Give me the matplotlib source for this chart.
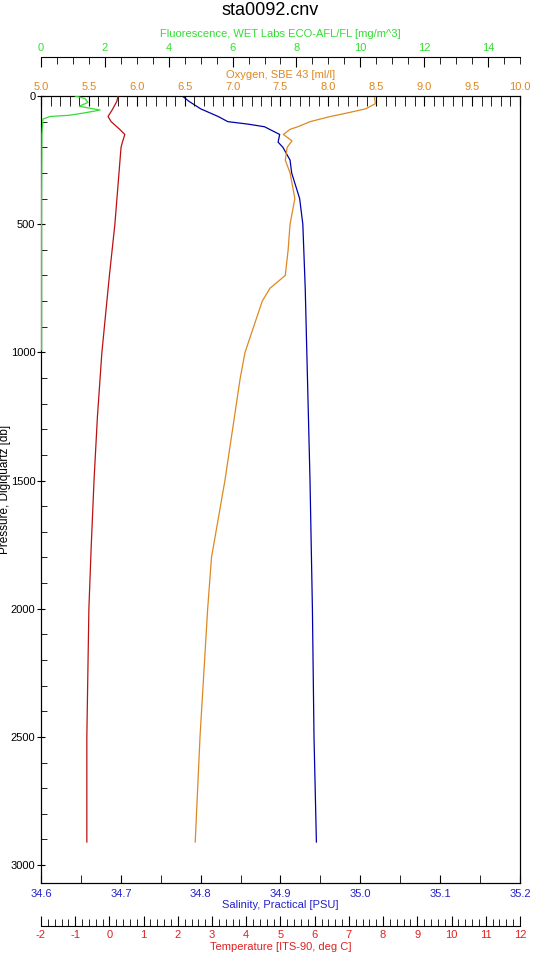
import numpy as np
import matplotlib.pyplot as plt
from matplotlib.ticker import MultipleLocator

plt.rcParams['font.family'] = ['Liberation Sans', 'DejaVu Sans']
plt.rcParams['axes.unicode_minus'] = False

# Profiles (pressure in db)
temp_p = [0, 20, 50, 80, 100, 130, 150, 180, 200, 300, 500, 700, 1000, 1250, 1500, 1750, 2000, 2250, 2500, 2750, 2910]
temp_v = [0.25, 0.22, 0.10, -0.04, 0.05, 0.30, 0.45, 0.38, 0.34, 0.28, 0.16, 0.0, -0.22, -0.35, -0.45, -0.53, -0.60, -0.63, -0.66, -0.66, -0.66]

sal_p = [0, 20, 50, 80, 100, 110, 120, 150, 180, 200, 250, 300, 400, 500, 750, 1000, 1500, 2000, 2500, 2910]
sal_v = [34.777, 34.785, 34.80, 34.822, 34.834, 34.86, 34.88, 34.899, 34.897, 34.903, 34.912, 34.914, 34.924, 34.928, 34.931, 34.933, 34.937, 34.940, 34.942, 34.945]

oxy_p = [0, 30, 50, 70, 80, 100, 120, 130, 150, 175, 200, 250, 300, 400, 500, 600, 700, 750, 800, 900, 1000, 1100, 1300, 1500, 1800, 2000, 2250, 2500, 2910]
oxy_v = [8.48, 8.49, 8.39, 8.15, 8.02, 7.81, 7.68, 7.60, 7.53, 7.62, 7.57, 7.55, 7.60, 7.65, 7.60, 7.58, 7.55, 7.39, 7.31, 7.22, 7.13, 7.08, 7.00, 6.92, 6.78, 6.74, 6.70, 6.66, 6.61]

fl_p = [0, 10, 25, 40, 55, 65, 75, 80, 90, 150, 400, 700, 990]
fl_v = [1.07, 1.38, 1.47, 1.2, 1.85, 1.4, 0.9, 0.28, 0.06, 0.03, 0.02, 0.02, 0.02]

fig = plt.figure(figsize=(5.4, 9.6), dpi=100)
ax = fig.add_axes([0.0759, 0.0802, 0.887, 0.8198])

ax.plot(sal_v, sal_p, color='#0000aa', lw=0.9)
ax.set_xlim(34.6, 35.2)
ax.set_ylim(3070, 0)
ax.xaxis.set_major_locator(MultipleLocator(0.1))
ax.xaxis.set_minor_locator(MultipleLocator(0.05))
ax.xaxis.set_major_formatter(plt.FormatStrFormatter('%.1f'))
ax.yaxis.set_major_locator(MultipleLocator(500))
ax.yaxis.set_minor_locator(MultipleLocator(100))
ax.tick_params(axis='x', labelsize=8, labelcolor='#2222cc', direction='in', length=6, pad=4)
ax.tick_params(axis='x', which='minor', direction='in', length=6)
ax.tick_params(axis='y', labelsize=8, direction='inout', length=6, pad=1)
ax.tick_params(axis='y', which='minor', direction='in', length=4)
ax.set_xlabel('Salinity, Practical [PSU]', color='#2222cc', fontsize=8, labelpad=1)
ax.set_ylabel('Pressure, Digiquartz [db]', fontsize=8.5)
ax.yaxis.set_label_coords(-0.062, 0.5)

ax_o = ax.twiny()
ax_o.plot(oxy_v, oxy_p, color='#dd8822', lw=0.9)
ax_o.set_xlim(5, 10)
ax_o.xaxis.set_major_locator(MultipleLocator(0.5))
ax_o.xaxis.set_minor_locator(MultipleLocator(0.1))
ax_o.xaxis.set_major_formatter(plt.FormatStrFormatter('%.1f'))
ax_o.tick_params(axis='x', labelsize=8, labelcolor='#dd8822', direction='in', length=7, pad=3)
ax_o.tick_params(axis='x', which='minor', direction='in', length=7)
ax_o.set_xlabel('Oxygen, SBE 43 [ml/l]', color='#dd8822', fontsize=8, labelpad=3)

ax_f = ax.twiny()
ax_f.plot(fl_v, fl_p, color='#33dd33', lw=0.9)
ax_f.set_xlim(0, 15)
ax_f.spines['top'].set_position(('outward', 28))
for s in ['left', 'right', 'bottom']:
    ax_f.spines[s].set_visible(False)
ax_f.xaxis.set_major_locator(MultipleLocator(2))
ax_f.xaxis.set_minor_locator(MultipleLocator(0.5))
ax_f.tick_params(axis='x', labelsize=8, labelcolor='#33dd33', direction='in', length=7, pad=3)
ax_f.tick_params(axis='x', which='minor', direction='in', length=5)
ax_f.set_xlabel('Fluorescence, WET Labs ECO-AFL/FL [mg/m^3]', color='#33dd33', fontsize=8, labelpad=4)

ax_t = ax.twiny()
ax_t.plot(temp_v, temp_p, color='#bb1111', lw=0.9)
ax_t.set_xlim(-2, 12)
ax_t.xaxis.set_ticks_position('bottom')
ax_t.xaxis.set_label_position('bottom')
ax_t.spines['bottom'].set_position(('outward', 31))
for s in ['left', 'right', 'top']:
    ax_t.spines[s].set_visible(False)
ax_t.xaxis.set_major_locator(MultipleLocator(1))
ax_t.xaxis.set_minor_locator(MultipleLocator(0.2))
ax_t.tick_params(axis='x', labelsize=8, labelcolor='#dd2222', direction='in', length=7, pad=3)
ax_t.tick_params(axis='x', which='minor', direction='in', length=5)
ax_t.set_xlabel('Temperature [ITS-90, deg C]', color='#dd2222', fontsize=8, labelpad=1)

fig.text(0.5, 0.998, 'sta0092.cnv', ha='center', va='top', fontsize=13)

plt.savefig('out.png')
plt.close()
